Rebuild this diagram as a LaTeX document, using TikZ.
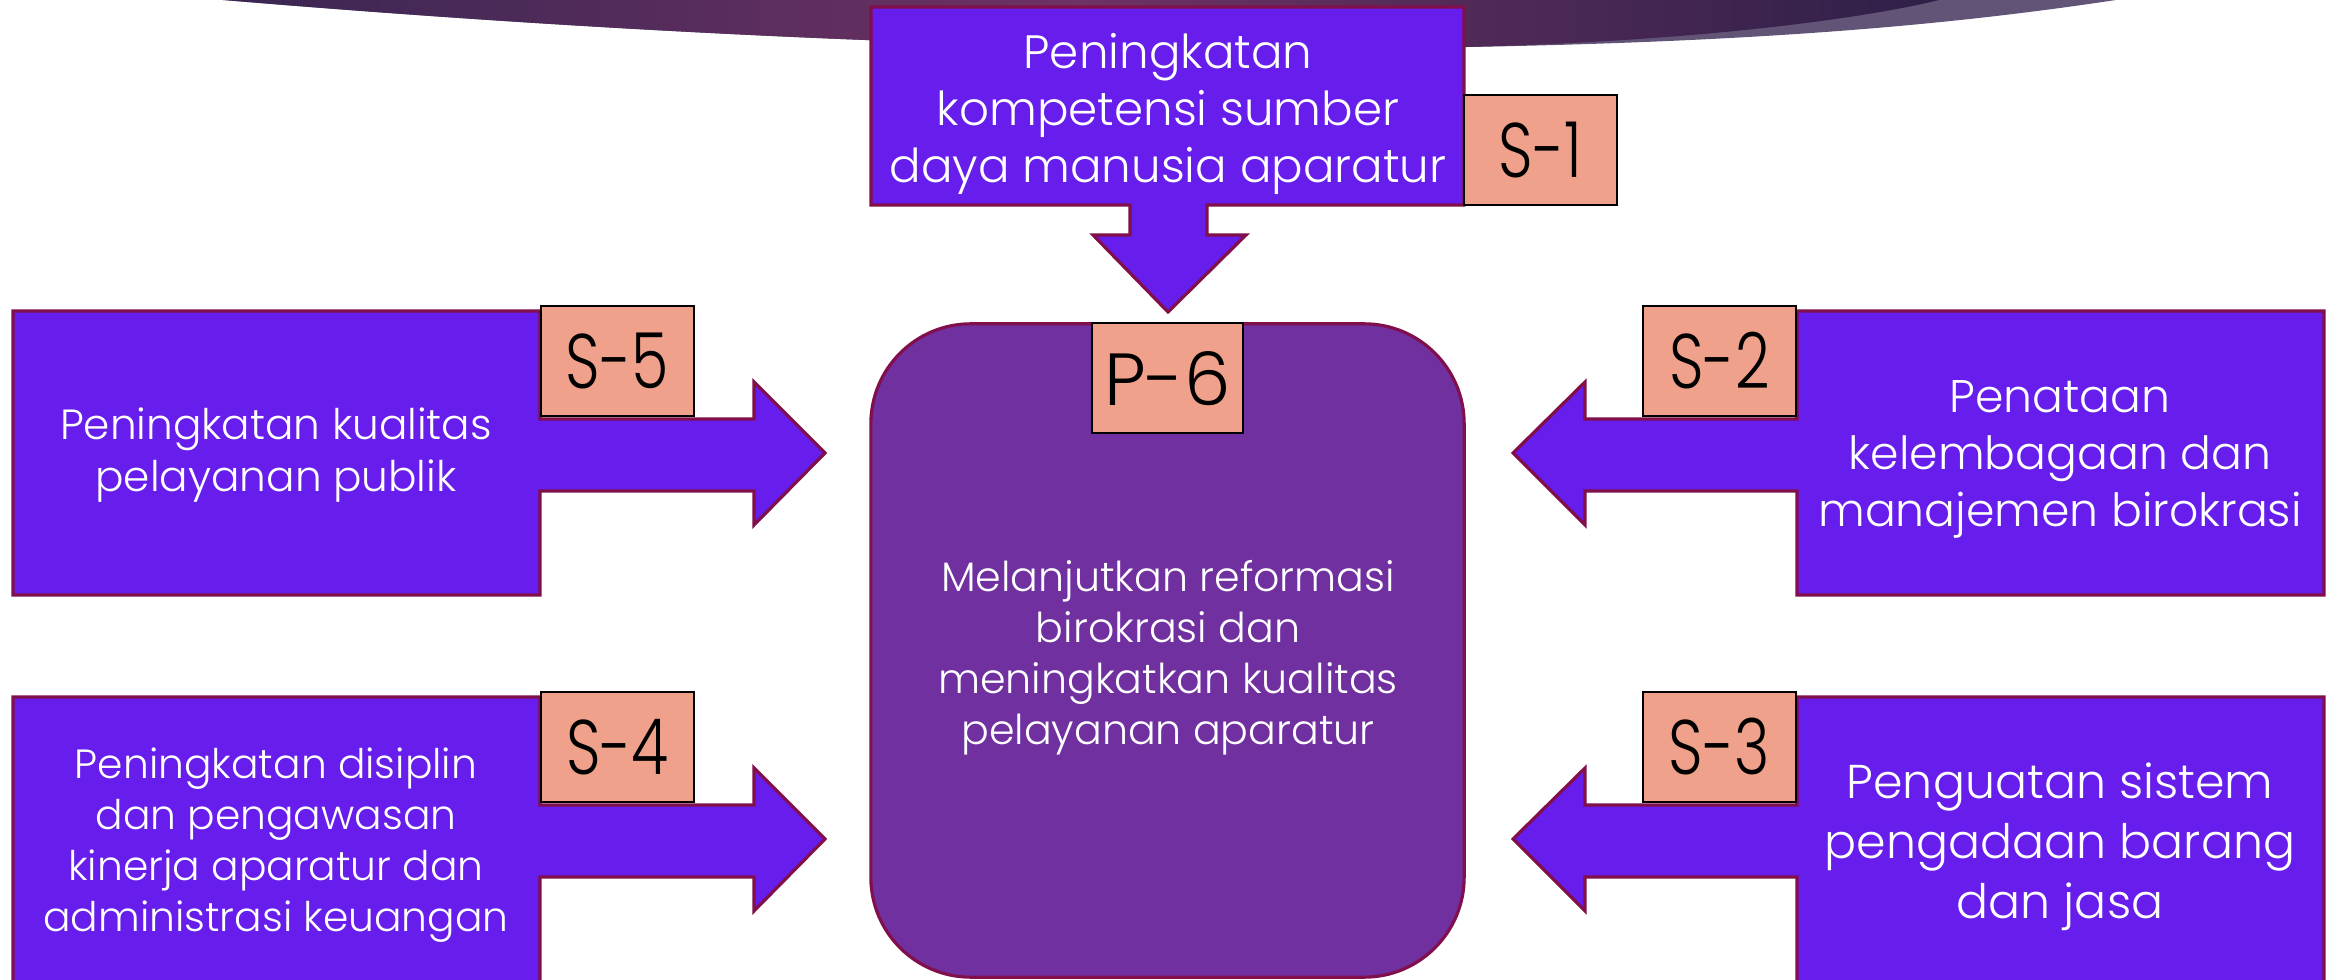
\documentclass[tikz,border=0pt]{standalone}
\usepackage{fontspec}
\setmainfont{Poppins}[UprightFont={* Light}]
\newfontfamily\narrowfont{Poppins}[UprightFont={* Light}, FakeStretch=0.78]
\usepackage{tikz}

\definecolor{calloutfill}{RGB}{103,29,235}
\definecolor{edgecol}{RGB}{128,15,75}
\definecolor{centrefill}{RGB}{112,48,160}
\definecolor{tagfill}{RGB}{240,161,139}
\definecolor{swooshleft}{RGB}{58,38,82}
\definecolor{swooshmid}{RGB}{110,50,100}
\definecolor{swooshright}{RGB}{46,32,72}
\definecolor{swooshlight}{RGB}{98,84,118}

\begin{document}
\begin{tikzpicture}[x=0.01cm, y=-0.01cm,
        callout/.style={fill=calloutfill, draw=edgecol, line width=0.9pt, line join=miter},
        tag/.style={fill=tagfill, draw=black, line width=0.6pt, minimum width=1.53cm, minimum height=1.1cm, inner sep=0pt, font=\narrowfont\fontsize{22}{22}\selectfont},
        boxtext/.style={text=white, align=center, inner sep=0pt}]
                    \useasboundingbox (0,0) rectangle (2331,980);
                    \clip (0,0) rectangle (2331,980);

                    \fill [swooshlight] (223,0) .. controls (700,40) and (1100,52) .. (1400,48) .. controls (1750,44) and (1950,25) .. (2116,0) -- cycle;
                    \shade [left color=swooshleft, right color=swooshright, middle color=swooshmid] (223,0) .. controls (700,40) and (1100,52) .. (1400,48) .. controls (1650,46) and (1850,22) .. (1939,0) -- cycle;

                    \draw [callout] (871,7) -- (1464,7) -- (1464,205) -- (1207,205) -- (1207,235) -- (1246,235) -- (1168,312) -- (1093,235) -- (1130,235) -- (1130,205) -- (871,205) -- cycle;

                    \foreach \dy/\yb in {0/595, 386/620} {%
                        \draw [callout, shift={(0,\dy)}] (13,311) -- (540,311) -- (540,419) -- (754,419) -- (754,382) -- (825,453) -- (754,525) -- (754,491) -- (540,491) -- (540,\yb) -- (13,\yb) -- cycle;
                        \draw [callout, shift={(0,\dy)}] (2324,311) -- (1797,311) -- (1797,419) -- (1585,419) -- (1585,382) -- (1513,453) -- (1585,525) -- (1585,491) -- (1797,491) -- (1797,\yb) -- (2324,\yb) -- cycle;
                    }

                    \node [draw=edgecol, line width=0.9pt, fill=centrefill, rounded corners=1cm, minimum width=5.93cm, minimum height=6.53cm, inner sep=0pt] (p6box) at (1167.5,650.5) {};

                    \node [tag] (s1) at (1540.5,150) {S-1};
                    \node [tag] (s5) at (617.5,361) {S-5};
                    \node [tag] (s4) at (617.5,747) {S-4};
                    \node [tag] (s2) at (1719.5,361) {S-2};
                    \node [tag] (s3) at (1719.5,747) {S-3};
                    \node [tag, anchor=north, minimum width=1.51cm, font=\fontsize{21}{21}\selectfont] (p6) at (p6box.north) {P-6};

                    \node [boxtext, font=\fontsize{13.3}{16.2}\selectfont] (s1txt) at (1168,114) {Peningkatan\\kompetensi sumber\\daya manusia aparatur};
                    \node [boxtext, font=\fontsize{12}{14.8}\selectfont] (s5txt) at (276,455) {Peningkatan kualitas\\pelayanan publik};
                    \node [boxtext, font=\fontsize{11.6}{14.5}\selectfont] (s4txt) at (276,845) {Peningkatan disiplin\\dan pengawasan\\kinerja aparatur dan\\administrasi keuangan};
                    \node [boxtext, font=\fontsize{13}{16.2}\selectfont] (s2txt) at (2060,459) {Penataan\\kelembagaan dan\\manajemen birokrasi};
                    \node [boxtext, font=\fontsize{13.5}{17}\selectfont] (s3txt) at (2060,847) {Penguatan sistem\\pengadaan barang\\dan jasa};
                    \node [boxtext, font=\fontsize{11.7}{14.5}\selectfont] (p6txt) at (1168,658) {Melanjutkan reformasi\\birokrasi dan\\meningkatkan kualitas\\pelayanan aparatur};
\end{tikzpicture}
\end{document}
